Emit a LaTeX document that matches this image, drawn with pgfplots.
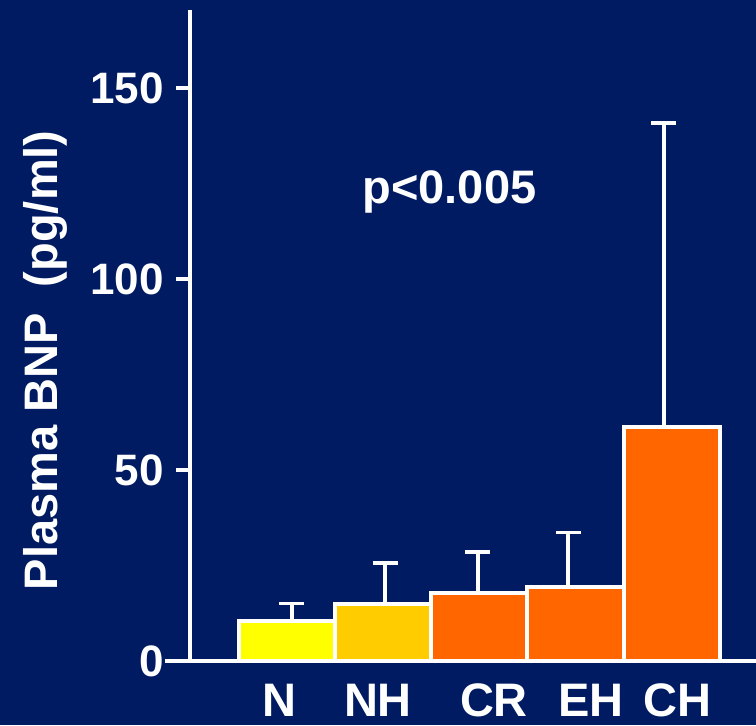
\documentclass[border=0pt]{standalone}
\usepackage{pgfplots}
\pgfplotsset{compat=1.18}
\usepackage{fontspec}
\setmainfont{Liberation Sans}
\definecolor{navy}{RGB}{0,27,98}
\definecolor{barN}{RGB}{255,255,0}
\definecolor{barNH}{RGB}{255,204,0}
\definecolor{barOr}{RGB}{255,102,0}
\newcommand{\bigbf}{\fontsize{23.5}{28}\selectfont\bfseries}
\newcommand{\tickbf}{\fontsize{22}{26}\selectfont\bfseries}
\begin{document}
\begin{tikzpicture}
\fill[navy] (-95pt,-32pt) rectangle (283pt,330.5pt);
\begin{axis}[
  at={(0,0)}, anchor=south west,
  scale only axis, width=283pt, height=325.5pt,
  xmin=-1.01, xmax=4.877, ymin=0, ymax=170.4,
  clip=false,
  axis x line*=bottom, axis y line*=left,
  axis line style={white, line width=2pt},
  x axis line style={shorten <=-12.5pt},
  ytick={0,50,100,150},
  tick align=outside, major tick length=7pt,
  ytick style={white, line width=2pt},
  xtick={-0.084,0.945,2.152,3.161,4.056},
  xticklabels={N,NH,CR,EH,CH},
  xtick style={draw=none},
  /pgf/number format/assume math mode=true,
  yticklabel style={white, font=\tickbf, xshift=-2.5pt},
  xticklabel style={white, font=\bigbf, yshift=-1pt},
  ylabel={Plasma BNP\ \ (pg/ml)},
  ylabel style={white, font=\bigbf, at={(axis description cs:-0.256,0.462)}, anchor=center},
]
% upper error bars (SD)
\addplot[only marks, mark=*, mark size=0pt, mark options={draw=none, fill=none},
  error bars/.cd, y dir=plus, y explicit, error mark=-,
  error bar style={line width=2pt, draw=white},
  error mark options={rotate=90, mark size=6.25pt, line width=1.8pt, draw=white}]
  coordinates {
    (0.05,10.35)  +- (0,4.65)
    (1.02,14.9)   +- (0,10.8)
    (1.983,17.9)  +- (0,10.7)
    (2.922,19.3)  +- (0,14.3)
    (3.915,61.2)  +- (0,79.6)
  };
% group means
\addplot[ybar, bar width=1, bar shift=0pt, fill=barN, draw=white, line width=2pt]
  coordinates {(0,10.35)};
\addplot[ybar, bar width=1, bar shift=0pt, fill=barNH, draw=white, line width=2pt]
  coordinates {(1,14.9)};
\addplot[ybar, bar width=1, bar shift=0pt, fill=barOr, draw=white, line width=2pt]
  coordinates {(2,17.9)};
\addplot[ybar, bar width=1, bar shift=0pt, fill=barOr, draw=white, line width=2pt]
  coordinates {(3,19.3)};
\addplot[ybar, bar width=1, bar shift=0pt, fill=barOr, draw=white, line width=2pt]
  coordinates {(4,61.2)};
\node[white, font=\bigbf] at (axis description cs:0.4585,0.720) {p<0.005};
\end{axis}
\pgfresetboundingbox
\path[use as bounding box] (-95pt,-32pt) rectangle (283pt,330.5pt);
\end{tikzpicture}
\end{document}
